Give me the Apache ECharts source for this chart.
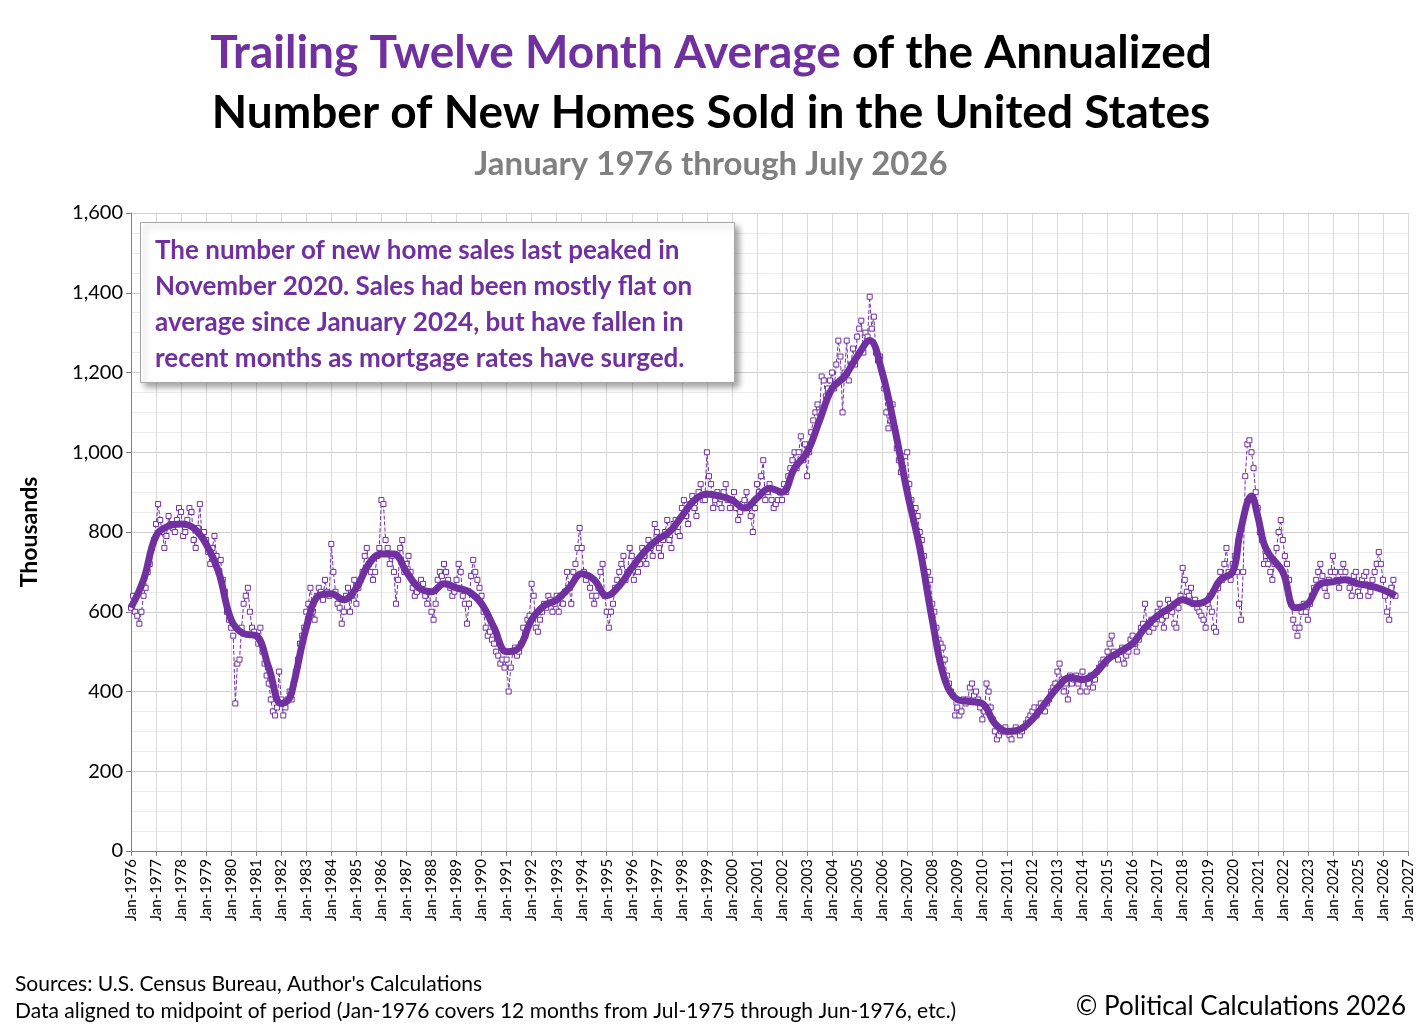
<!DOCTYPE html>
<html>
<head>
<meta charset="utf-8">
<script src="https://cdn.jsdelivr.net/npm/echarts@6/dist/echarts.min.js"></script>
<style>html,body{margin:0;padding:0;background:#fff}#main{width:1422px;height:1034px}</style>
</head>
<body>
<div id="main"></div>
<script>
// monthly annualized sales (thousands), one row per year starting Jan-1976
const firstYear = 1976;
const monthly = [
  [610,640,600,590,570,600,640,660,700,720,760,780],
  [820,870,830,800,760,790,840,820,810,800,830,860],
  [850,790,800,830,860,850,780,760,810,870,790,800],
  [780,750,720,760,790,740,700,730,680,650,600,580],
  [560,540,370,470,480,560,620,640,660,600,560,550],
  [540,520,560,500,470,440,420,380,350,340,360,450],
  [380,340,360,380,400,380,420,450,480,520,540,560],
  [600,620,660,600,580,640,660,650,630,680,650,640],
  [770,700,650,620,610,570,600,640,660,600,640,680],
  [620,660,680,700,740,760,720,700,680,700,740,760],
  [880,870,780,760,720,740,700,620,680,760,780,700],
  [720,740,700,660,640,650,660,680,670,640,620,650],
  [600,580,620,680,700,690,720,700,680,660,640,650],
  [680,720,700,640,620,570,620,690,730,700,680,660],
  [640,600,560,540,550,530,520,500,490,470,480,460],
  [480,400,460,500,510,490,500,520,560,540,580,590],
  [670,640,560,550,580,600,620,610,640,630,600,620],
  [640,600,640,620,650,700,660,620,700,720,760,810],
  [760,700,680,690,660,640,620,640,660,700,720,640],
  [600,560,600,620,660,680,700,720,740,680,700,760],
  [740,680,720,700,720,760,740,720,780,760,740,820],
  [800,760,740,780,800,830,780,760,820,830,800,790],
  [860,880,840,820,870,890,860,840,900,920,880,880],
  [1000,940,920,860,880,900,870,860,900,920,880,860],
  [880,900,860,830,850,870,880,900,860,840,800,860],
  [920,900,940,980,880,900,920,880,860,870,880,900],
  [880,920,900,940,960,980,1000,960,1000,1040,980,1020],
  [940,1000,1050,1080,1100,1120,1100,1190,1180,1140,1160,1180],
  [1200,1160,1220,1280,1240,1100,1200,1280,1180,1220,1260,1220],
  [1290,1310,1330,1250,1300,1290,1390,1310,1340,1250,1230,1240],
  [1200,1160,1100,1060,1080,1120,1060,1010,980,950,960,990],
  [1000,920,880,830,860,840,800,780,740,700,700,680],
  [620,600,560,530,520,510,480,440,420,400,390,340],
  [360,340,350,380,370,380,410,420,390,400,380,360],
  [330,350,420,400,360,330,300,280,290,300,300,310],
  [300,290,280,300,310,300,290,300,310,320,330,340],
  [350,360,340,360,370,360,350,370,380,400,410,420],
  [450,470,430,400,420,380,440,420,430,440,420,400],
  [450,430,400,420,440,410,430,450,460,470,480,470],
  [500,520,540,500,490,480,500,510,470,490,500,530],
  [540,520,500,530,560,570,620,560,550,580,560,570],
  [600,620,580,560,590,630,620,600,570,560,610,640],
  [710,680,650,640,660,620,630,610,600,590,580,560],
  [620,640,600,560,550,660,700,680,720,760,700,680],
  [720,740,700,620,580,700,940,1020,1030,1000,960,900],
  [860,800,780,720,740,720,700,680,720,760,800,830],
  [780,740,720,680,620,580,560,540,560,600,620,600],
  [580,620,640,660,680,700,720,690,660,640,680,700],
  [740,700,680,660,700,720,700,680,660,640,690,700],
  [650,640,680,690,700,640,650,680,700,720,750,720],
  [680,640,600,580,660,680,640]
];

// trailing twelve month average, read at half-year points
const ttmYears = [1976,1976.5,1977,1977.5,1978,1978.5,1979,1979.5,1980,1980.5,1981,1981.5,1982,1982.3,1982.5,1983,1983.5,1984,1984.5,1985,1985.5,1986,1986.5,1987,1987.5,1988,1988.5,1989,1989.5,1990,1990.5,1991,1991.5,1992,1992.5,1993,1993.5,1994,1994.5,1995,1995.5,1996,1996.5,1997,1997.5,1998,1998.5,1999,1999.5,2000,2000.5,2001,2001.5,2002,2002.5,2003,2003.5,2004,2004.5,2005,2005.5,2006,2006.5,2007,2007.5,2008,2008.5,2009,2009.5,2010,2010.5,2011,2011.5,2012,2012.5,2013,2013.5,2014,2014.5,2015,2015.5,2016,2016.5,2017,2017.5,2018,2018.5,2019,2019.5,2020,2020.3,2020.75,2021,2021.25,2021.5,2022,2022.5,2023,2023.5,2024,2024.5,2025,2025.5,2026,2026.5];
const ttmValues = [610,680,790,815,820,810,770,700,580,545,540,460,370,380,420,560,640,645,630,660,720,745,745,700,660,650,670,660,650,620,560,500,510,580,615,630,660,695,680,640,665,710,750,780,800,840,880,895,890,880,860,885,910,900,960,1000,1080,1160,1190,1240,1280,1200,1060,900,760,580,430,380,375,370,320,300,305,330,370,410,435,430,445,480,500,520,560,590,610,630,620,630,680,700,800,890,840,770,740,700,610,620,670,675,680,670,665,655,640];

const purple = '#7030A0';
const rawPts = [];
monthly.forEach((row, i) => row.forEach((v, m) => rawPts.push([firstYear + i + m / 12, v])));
const ttmPts = ttmYears.map((y, i) => [y, ttmValues[i]]);

const chart = echarts.init(document.getElementById('main'));
chart.setOption({
  animation: false,
  textStyle: { fontFamily: 'Lato' },
  title: [
    {
      left: 'center', top: 18,
      text: '{p|Trailing Twelve Month Average} of the Annualized\nNumber of New Homes Sold in the United States',
      textStyle: {
        fontSize: 46, fontWeight: 'bold', color: '#000', lineHeight: 60,
        rich: { p: { fontSize: 46, fontWeight: 'bold', color: purple, fontFamily: 'Lato' } }
      }
    },
    { left: 'center', top: 143, text: 'January 1976 through July 2026',
      textStyle: { fontSize: 33, fontWeight: 'bold', color: '#808080' } }
  ],
  grid: { left: 131, right: 14, top: 213, bottom: 183 },
  xAxis: {
    type: 'value', min: 1976, max: 2027, interval: 1,
    axisLine: { lineStyle: { color: '#808080' } },
    axisTick: { show: true, lineStyle: { color: '#808080' } },
    axisLabel: { rotate: 90, color: '#000', fontSize: 15, formatter: v => 'Jan-' + v },
    splitLine: { show: true, lineStyle: { color: '#d9d9d9' } }
  },
  yAxis: {
    type: 'value', min: 0, max: 1600, interval: 200,
    name: 'Thousands', nameLocation: 'middle', nameGap: 90,
    nameTextStyle: { fontSize: 23, fontWeight: 'bold', color: '#000' },
    axisLine: { show: true, lineStyle: { color: '#808080' } },
    axisLabel: { color: '#000', fontSize: 20, formatter: v => v.toLocaleString('en-US') },
    splitLine: { lineStyle: { color: '#d0d0d0' } },
    minorTick: { show: false, splitNumber: 4 },
    minorSplitLine: { show: true, lineStyle: { color: '#ececec' } }
  },
  series: [
    {
      type: 'line', data: rawPts, symbol: 'rect', symbolSize: 5,
      itemStyle: { color: '#fff', borderColor: purple, borderWidth: 1 },
      lineStyle: { color: purple, width: 1, type: 'dashed' }, z: 2
    },
    {
      type: 'line', data: ttmPts, smooth: 0.4, showSymbol: false,
      lineStyle: { color: purple, width: 7 }, z: 3
    }
  ],
  graphic: [
    { type: 'rect', left: 140, top: 222, z: 100,
      shape: { width: 594, height: 160 },
      style: { fill: '#fff', stroke: '#a6a6a6', lineWidth: 1, shadowBlur: 6, shadowOffsetX: 4, shadowOffsetY: 4, shadowColor: 'rgba(0,0,0,0.35)' } },
    { type: 'text', left: 155, top: 233, z: 101,
      style: { text: 'The number of new home sales last peaked in\nNovember 2020. Sales had been mostly flat on\naverage since January 2024, but have fallen in\nrecent months as mortgage rates have surged.',
        font: 'bold 26px Lato', fill: purple, lineHeight: 36 } },
    { type: 'text', left: 15, top: 974,
      style: { text: "Sources: U.S. Census Bureau, Author's Calculations", font: '21px Lato', fill: '#000' } },
    { type: 'text', left: 15, top: 1001,
      style: { text: 'Data aligned to midpoint of period (Jan-1976 covers 12 months from Jul-1975 through Jun-1976, etc.)', font: '21px Lato', fill: '#000' } },
    { type: 'text', right: 16, top: 994,
      style: { text: '© Political Calculations 2026', font: '26px Lato', fill: '#000' } }
  ]
});
</script>
</body>
</html>
